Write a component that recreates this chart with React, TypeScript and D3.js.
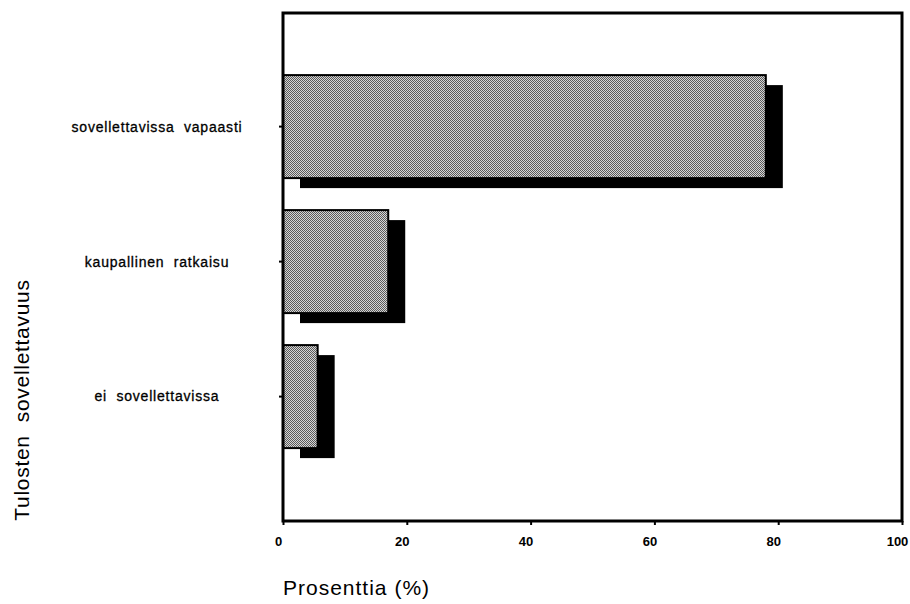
import React, { useEffect, useRef } from "react";
import * as d3 from "d3";

const categories = ["sovellettavissa  vapaasti", "kaupallinen  ratkaisu", "ei  sovellettavissa"];
const values = [78, 17, 5.6];
const xTicks = [0, 20, 40, 60, 80, 100];
const xTitle = "Prosenttia (%)";
const yTitle = "Tulosten  sovellettavuus";

export default function App() {
  const svgRef = useRef<SVGSVGElement>(null);

  useEffect(() => {
    const w = 910;
    const h = 604;
    const left = 283, right = 902, top = 13, bottom = 521;

    const svg = d3.select(svgRef.current).attr("width", w).attr("height", h);
    svg.selectAll("*").remove();

    // halftone-like fill for the bars
    const defs = svg.append("defs");
    const pat = defs.append("pattern")
      .attr("id", "dither")
      .attr("width", 2)
      .attr("height", 2)
      .attr("patternUnits", "userSpaceOnUse");
    pat.append("rect").attr("width", 2).attr("height", 2).attr("fill", "#d6d6d6");
    pat.append("rect").attr("width", 1).attr("height", 1).attr("fill", "#5a5a5a");
    pat.append("rect").attr("x", 1).attr("y", 1).attr("width", 1).attr("height", 1).attr("fill", "#5a5a5a");

    const xScale = d3.scaleLinear().domain([0, 100]).range([left, right]);
    const yScale = d3.scaleBand()
      .domain(categories)
      .range([top, bottom])
      .paddingInner(0.237)
      .paddingOuter(0.5)
      .align(0.46);

    const font = "Arial, 'Liberation Sans', sans-serif";

    // shadows
    svg.append("g")
      .selectAll("rect")
      .data(values)
      .join("rect")
      .attr("x", xScale(0) + 17)
      .attr("y", (v, i) => (yScale(categories[i]) as number) + 10)
      .attr("width", (v) => xScale(v) - xScale(0))
      .attr("height", yScale.bandwidth())
      .attr("fill", "#000");

    // bars
    svg.append("g")
      .selectAll("rect")
      .data(values)
      .join("rect")
      .attr("x", xScale(0))
      .attr("y", (v, i) => yScale(categories[i]) as number)
      .attr("width", (v) => xScale(v) - xScale(0))
      .attr("height", yScale.bandwidth())
      .attr("fill", "url(#dither)")
      .attr("stroke", "#000")
      .attr("stroke-width", 2);

    // frame
    svg.append("rect")
      .attr("x", left)
      .attr("y", top)
      .attr("width", right - left)
      .attr("height", bottom - top)
      .attr("fill", "none")
      .attr("stroke", "#000")
      .attr("stroke-width", 3);

    // x axis
    const xAxis = d3.axisBottom(xScale).tickValues(xTicks).tickSize(4).tickPadding(12).tickFormat(d3.format("d"));
    const gx = svg.append("g").attr("transform", `translate(0, ${bottom})`).call(xAxis);
    gx.select(".domain").remove();
    gx.selectAll("line").attr("stroke", "#000").attr("stroke-width", 2);
    gx.selectAll("text")
      .attr("dx", -5)
      .attr("font-family", font)
      .attr("font-size", 13)
      .attr("font-weight", "bold")
      .attr("fill", "#000");

    // y axis
    const yAxis = d3.axisLeft(yScale).tickSize(4).tickFormat(() => "");
    const gy = svg.append("g").attr("transform", `translate(${left}, 0)`).call(yAxis);
    gy.select(".domain").remove();
    gy.selectAll("line").attr("stroke", "#000").attr("stroke-width", 2);

    // category labels
    svg.append("g")
      .selectAll("text")
      .data(categories)
      .join("text")
      .attr("x", 157)
      .attr("y", (d) => (yScale(d) as number) + yScale.bandwidth() / 2)
      .attr("dy", "0.35em")
      .attr("text-anchor", "middle")
      .attr("font-family", font)
      .attr("font-size", 14)
      .attr("letter-spacing", 0.8)
      .attr("stroke", "#000")
      .attr("stroke-width", 0.3)
      .style("white-space", "pre")
      .attr("fill", "#000")
      .text((d) => d);

    // titles
    svg.append("text")
      .attr("x", left)
      .attr("y", 595)
      .attr("font-family", font)
      .attr("font-size", 21)
      .attr("letter-spacing", 1)
      .attr("fill", "#000")
      .text(xTitle);

    svg.append("text")
      .attr("transform", `translate(29, 400) rotate(-90)`)
      .attr("text-anchor", "middle")
      .attr("font-family", font)
      .attr("font-size", 21)
      .attr("letter-spacing", 0.7)
      .style("white-space", "pre")
      .attr("fill", "#000")
      .text(yTitle);
  }, []);

  return (
    <div>
      <svg ref={svgRef} style={{ position: "absolute", left: 0, top: 0, background: "#fff" }}></svg>
    </div>
  );
}
